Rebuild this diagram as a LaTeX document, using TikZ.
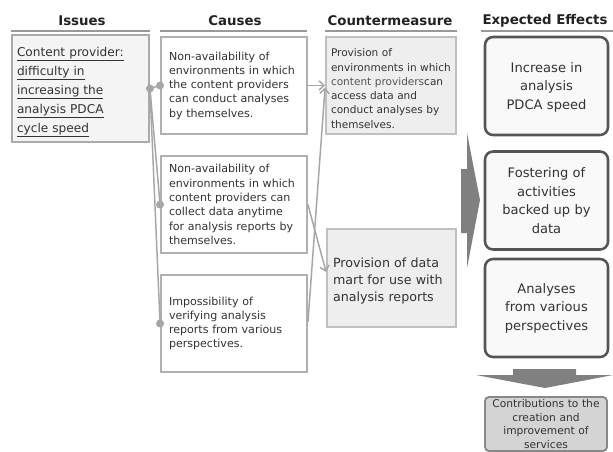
\documentclass[tikz,border=0pt]{standalone}
\usepackage{fontspec}
\setmainfont{DejaVu Sans}
\usetikzlibrary{arrows.meta}
\definecolor{txt}{HTML}{333333}
\definecolor{hdrtxt}{HTML}{222222}
\definecolor{hdrline}{HTML}{999999}
\definecolor{issfill}{HTML}{F4F4F4}
\definecolor{issline}{HTML}{AAAAAA}
\definecolor{causeline}{HTML}{B0B0B0}
\definecolor{cmfill}{HTML}{EEEEEE}
\definecolor{cmline}{HTML}{C0C0C0}
\definecolor{effline}{HTML}{555555}
\definecolor{efffill}{HTML}{F9F9F9}
\definecolor{bigarrow}{HTML}{808080}
\definecolor{finfill}{HTML}{D4D4D4}
\definecolor{finline}{HTML}{888888}
\definecolor{connc}{HTML}{A6A6A6}
\definecolor{cpgray}{HTML}{555555}
\begin{document}
\begin{tikzpicture}[x=0.75pt,y=-0.75pt,
  hdr/.style={font=\fontsize{10}{12}\selectfont\bfseries, text=hdrtxt, inner sep=0pt},
  hdrrule/.style={draw=hdrline, line width=1.5pt},
  issbox/.style={draw=issline, fill=issfill, line width=1.4pt, minimum width=102.75pt, minimum height=77.25pt,
     inner xsep=3.75pt, text width=95.25pt, align=left, text=txt, font=\fontsize{9.1}{14.25}\selectfont},
  causebox/.style={draw=causeline, fill=white, line width=1.4pt, minimum width=109.5pt, minimum height=72.75pt,
     inner xsep=6pt, text width=97.5pt, align=left, text=txt, font=\fontsize{8.3}{10.7}\selectfont},
  cmboxa/.style={draw=cmline, fill=cmfill, line width=1.4pt, minimum width=97.5pt, minimum height=72.75pt,
     inner xsep=3.75pt, text width=90pt, align=left, text=txt, font=\fontsize{7.9}{10.7}\selectfont},
  cmboxb/.style={draw=cmline, fill=cmfill, line width=1.4pt, minimum width=96.75pt, minimum height=73.5pt,
     inner xsep=4.5pt, text width=87.75pt, align=left, text=txt, font=\fontsize{9.5}{12.75}\selectfont},
  effbox/.style={draw=effline, fill=efffill, line width=1.9pt, rounded corners=6pt, minimum width=92.25pt,
     minimum height=73.5pt, text width=85pt, align=center, text=txt, font=\fontsize{9.8}{13.9}\selectfont},
  finbox/.style={draw=finline, fill=finfill, line width=1.4pt, rounded corners=3pt, minimum width=91.5pt,
     minimum height=40.5pt, text width=88pt, inner xsep=1pt, inner ysep=0pt, align=center, text=txt, font=\fontsize{8}{10.3}\selectfont},
  conn/.style={draw=connc, line width=1.1pt},
  arr/.style={draw=connc, line width=1.1pt, -{Straight Barb[length=3.75pt,width=7pt]}},
  dot/.style={fill=connc}
]
\clip (0,0) rectangle (613,451);
\useasboundingbox (0,0) rectangle (613,451);
\fill[white] (0,0) rectangle (613,451);

% headers
\node[hdr] (h1) at (82,21) {Issues};
\node[hdr] (h2) at (235,21) {Causes};
\node[hdr] (h3) at (390,21) {Countermeasure};
\node[hdr] (h4) at (545,21) {Expected Effects};
\draw[hdrrule] (11,31) -- (150,31);
\draw[hdrrule] (160,31) -- (307,31);
\draw[hdrrule] (325,31) -- (457,31);
\draw[hdrrule] (481,31) -- (613,31);

% issue
\node[issbox] (iss) at (80.5,88.5) {\rule{0pt}{12.5pt}\underline{Content provider:}\\\underline{difficulty in}\\\underline{increasing the}\\\underline{analysis PDCA}\\\underline{cycle speed}};

% causes
\node[causebox] (c1) at (234,85.5) {Non-availability of\\environments in which\\the content providers\\can conduct analyses\\by themselves.};
\node[causebox] (c2) at (234,204.5) {Non-availability of\\environments in which\\content providers can\\collect data anytime\\for analysis reports by\\themselves.};
\node[causebox] (c3) at (234,323.5) {Impossibility of\\verifying analysis\\reports from various\\perspectives.};

% countermeasures
\node[cmboxa] (m1) at (391,85.5) {\rule{0pt}{10.5pt}Provision of\\environments in which\\{\color{cpgray}content providers}can\\access data and\\conduct analyses by\\themselves.};
\node[cmboxb] (m2) at (391.5,278) {\rule{0pt}{11pt}Provision of data\\mart for use with\\analysis reports};

% expected effects
\node[effbox] (e1) at (546.5,86) {\rule{0pt}{9.5pt}Increase in\\analysis\\PDCA speed};
\node[effbox] (e2) at (546.5,200.5) {Fostering of\\activities\\backed up by\\data};
\node[effbox] (e3) at (546.5,308) {Analyses\\from various\\perspectives};
\node[finbox] (fin) at (546,424) {Contributions to the\\creation and\\improvement of\\services};

% big arrows
\fill[bigarrow] (461,169) -- (467,169) -- (467,133) -- (480,200) -- (467,268) -- (467,233) -- (461,233) -- cycle;
\fill[bigarrow] (513,369) -- (576,369) -- (576,375) -- (613,375) -- (545,388) -- (476,375) -- (513,375) -- cycle;

% connectors issue -> causes
\draw[conn] (iss.east) -- (c1.west);
\draw[conn] (iss.east) -- (c2.west);
\draw[conn] (iss.east) -- (c3.west);
\fill[dot] (iss.east) circle (3pt);
\fill[dot] (c1.west) circle (3pt);
\fill[dot] (c2.west) circle (3pt);
\fill[dot] (c3.west) circle (3pt);

% causes -> countermeasures
\draw[arr] (c1.east) -- (m1.west);
\draw[arr] ([yshift=1pt]c3.east) -- ([yshift=-1.5pt]m1.west);
\draw[arr] (c2.east) -- ([yshift=4.5pt]m2.west);
\end{tikzpicture}
\end{document}
